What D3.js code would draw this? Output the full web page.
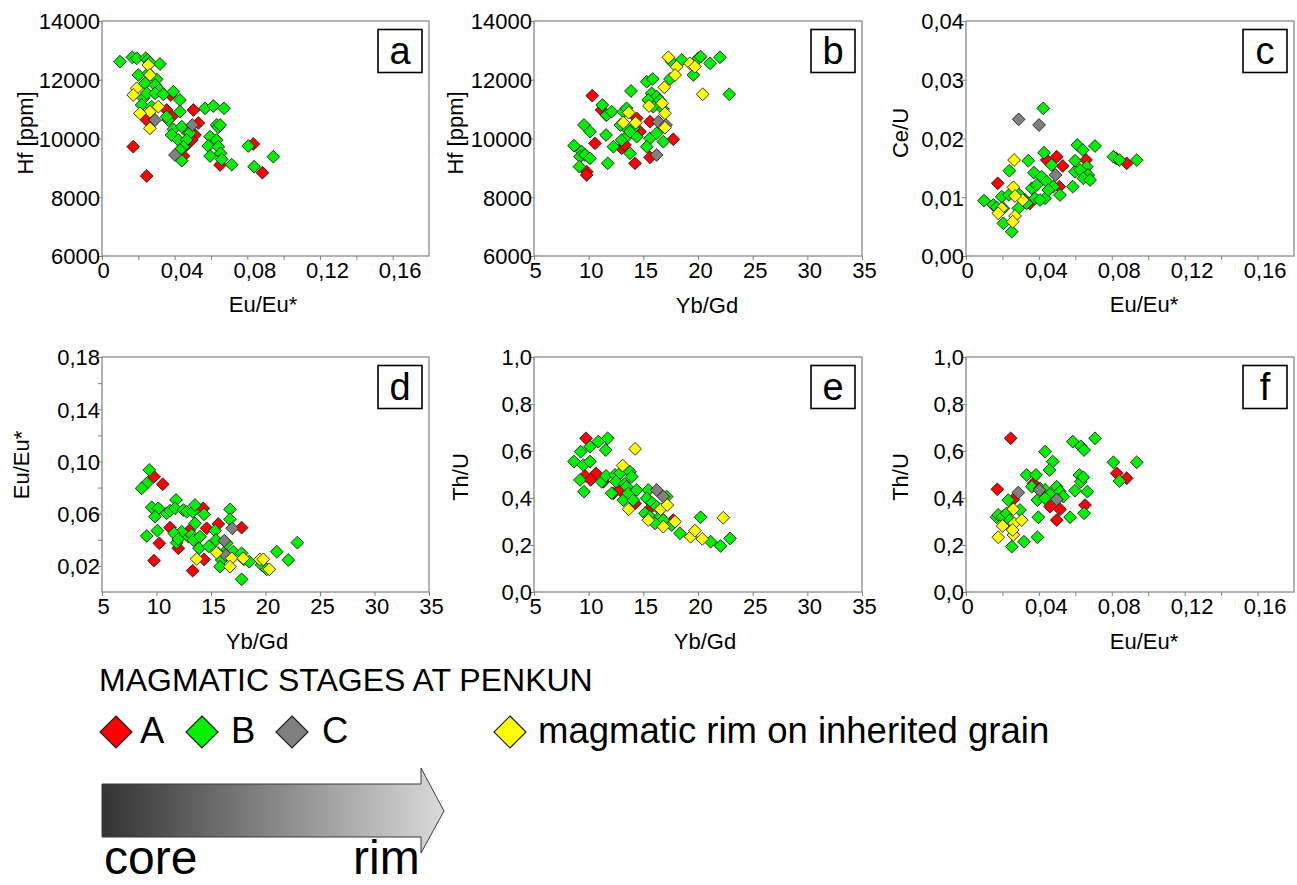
<!DOCTYPE html>
<html>
<head>
<meta charset="utf-8">
<script src="https://cdn.jsdelivr.net/npm/d3@7/dist/d3.min.js"></script>
<style>
  html, body { margin: 0; padding: 0; background: #fff; }
  svg { display: block; }
</style>
</head>
<body>
<svg id="chart" width="1297" height="885"></svg>
<script>
// ---------------- DATA ----------------
// groups
const groupNames = ["A", "B", "C", "magmatic rim on inherited grain"];
const groupColors = ["#ff0000", "#00f000", "#808080", "#ffff00"];

// tick values / labels
const euTicks  = [0, 0.02, 0.04, 0.06, 0.08, 0.10, 0.12, 0.14, 0.16];
const euLabels = ["0", "", "0,04", "", "0,08", "", "0,12", "", "0,16"];
const ybTicks  = [5, 10, 15, 20, 25, 30, 35];
const ybLabels = ["5", "10", "15", "20", "25", "30", "35"];
const hfTicks  = [6000, 8000, 10000, 12000, 14000];
const hfLabels = ["6000", "8000", "10000", "12000", "14000"];
const ceuTicks  = [0, 0.01, 0.02, 0.03, 0.04];
const ceuLabels = ["0,00", "0,01", "0,02", "0,03", "0,04"];
const euYTicks  = [0.02, 0.04, 0.06, 0.08, 0.10, 0.12, 0.14, 0.16, 0.18];
const euYLabels = ["0,02", "", "0,06", "", "0,10", "", "0,14", "", "0,18"];
const thuTicks  = [0, 0.2, 0.4, 0.6, 0.8, 1.0];
const thuLabels = ["0,0", "0,2", "0,4", "0,6", "0,8", "1,0"];

// Panel a: Eu/Eu* vs Hf
const aA = [[0.0378,11481],[0.0356,10970],[0.0384,10743],[0.0503,10970],[0.0530,10528],[0.0512,10119],[0.0494,9949],[0.0457,9721],[0.0448,9404],[0.0172,9721],[0.0246,8724],[0.0650,9098],[0.0833,9813],[0.0883,8836],[0.0246,10630]];
const aB = [[0.0099,12615],[0.0167,12764],[0.0191,12730],[0.0240,12730],[0.0251,12672],[0.0264,12581],[0.0319,12536],[0.0200,12162],[0.0255,12219],[0.0301,12015],[0.0237,11879],[0.0292,11821],[0.0316,11651],[0.0228,11368],[0.0246,11538],[0.0292,11538],[0.0338,11505],[0.0429,11311],[0.0393,11595],[0.0218,11141],[0.0273,11084],[0.0429,10913],[0.0365,10630],[0.0356,10743],[0.0567,11028],[0.0613,11107],[0.0672,11028],[0.0393,10313],[0.0439,10402],[0.0475,10177],[0.0484,10187],[0.0383,10119],[0.0420,9949],[0.0466,9949],[0.0448,9721],[0.0429,9609],[0.0439,9245],[0.0631,10460],[0.0640,10381],[0.0650,10460],[0.0595,10062],[0.0631,9949],[0.0585,9745],[0.0640,9721],[0.0653,9496],[0.0595,9404],[0.0659,9291],[0.0714,9109],[0.0805,9745],[0.0837,9040],[0.0943,9381]];
const aC = [[0.0292,10630],[0.0497,10460],[0.0402,9439]];
const aR = [[0.0255,12502],[0.0264,12162],[0.0191,11709],[0.0172,11481],[0.0310,11084],[0.0264,10913],[0.0209,10857],[0.0264,10347]];

// Panel b: Yb/Gd vs Hf
const bA = [[10.33,11458],[10.58,9837],[11.19,10970],[11.60,10800],[13.02,9667],[13.32,9779],[14.24,9156],[14.39,10687],[14.69,10232],[15.61,10572],[15.61,9360],[17.74,9973],[9.82,8870],[9.82,8758]];
const bB = [[8.66,9756],[9.57,10460],[10.12,10232],[9.36,9551],[9.21,9381],[9.66,9439],[10.12,9326],[9.15,9041],[11.25,11141],[11.65,10800],[12.10,10913],[11.59,10119],[11.74,9156],[12.26,9721],[13.02,9949],[13.17,10913],[13.47,11028],[13.78,9496],[13.87,11617],[13.63,10119],[14.39,10062],[14.08,10347],[13.32,10392],[13.78,10232],[12.90,10460],[15.31,11934],[15.86,12026],[15.76,11539],[16.22,11424],[15.91,11083],[15.45,11311],[16.50,11300],[16.80,11000],[15.61,10007],[15.31,9721],[16.22,10177],[16.83,9892],[17.44,12026],[17.59,12615],[18.51,12672],[19.57,12162],[20.03,12730],[20.24,12785],[21.10,12560],[22.01,12764],[22.86,11505]];
const bC = [[16.37,10572],[16.22,9439],[17.07,10460]];
const bR = [[17.29,12764],[18.05,12444],[17.90,12162],[19.27,12560],[19.72,12444],[20.43,11505],[16.92,11743],[16.73,11198],[15.52,11107],[16.98,10858],[16.98,10368],[13.66,10880],[14.30,10538],[13.17,10538]];

// Panel c: Eu/Eu* vs Ce/U
const cA = [[0.0174,0.01237],[0.0443,0.01634],[0.0498,0.01690],[0.0531,0.01532],[0.0659,0.01634],[0.0512,0.01180],[0.0882,0.01577],[0.0824,0.01663],[0.0351,0.00897]];
const cB = [[0.0099,0.00942],[0.0150,0.00868],[0.0168,0.00828],[0.0196,0.01010],[0.0205,0.00556],[0.0251,0.00414],[0.0238,0.01452],[0.0342,0.01622],[0.0373,0.01418],[0.0428,0.01758],[0.0424,0.02513],[0.0324,0.00953],[0.0361,0.01152],[0.0388,0.01208],[0.0415,0.01350],[0.0443,0.01265],[0.0470,0.01549],[0.0479,0.01180],[0.0434,0.00982],[0.0379,0.00982],[0.0406,0.00953],[0.0452,0.01123],[0.0516,0.01038],[0.0586,0.01180],[0.0598,0.01435],[0.0598,0.01622],[0.0611,0.01889],[0.0641,0.01804],[0.0708,0.01872],[0.0663,0.01520],[0.0626,0.01464],[0.0671,0.01379],[0.0644,0.01322],[0.0681,0.01294],[0.0809,0.01690],[0.0842,0.01634],[0.0937,0.01632],[0.0205,0.00811],[0.0287,0.00811],[0.0315,0.00953],[0.0333,0.00897],[0.0236,0.01040],[0.0290,0.01050]];
const cC = [[0.0289,0.02326],[0.0401,0.02230],[0.0492,0.01379]];
const cR = [[0.0264,0.01634],[0.0260,0.01169],[0.0311,0.00953],[0.0269,0.01021],[0.0196,0.00811],[0.0177,0.00726],[0.0269,0.00681],[0.0256,0.00584]];

// Panel d: Yb/Gd vs Eu/Eu*
const dA = [[9.77,0.0883],[10.57,0.0825],[11.24,0.0493],[10.26,0.0373],[9.77,0.0240],[13.32,0.0163],[14.36,0.0250],[14.29,0.0641],[14.60,0.0488],[15.67,0.0521],[17.81,0.0493],[12.00,0.0335],[13.00,0.0470]];
const dB = [[9.34,0.0935],[9.10,0.0832],[8.64,0.0794],[9.56,0.0649],[10.17,0.0641],[9.86,0.0577],[9.10,0.0429],[10.08,0.0470],[10.93,0.0603],[11.24,0.0623],[11.79,0.0705],[11.70,0.0641],[12.46,0.0628],[12.77,0.0615],[13.32,0.0615],[13.53,0.0666],[14.36,0.0595],[13.53,0.0526],[12.92,0.0424],[12.31,0.0462],[11.85,0.0378],[11.61,0.0450],[13.23,0.0437],[13.38,0.0398],[13.90,0.0335],[13.99,0.0424],[12.00,0.0405],[14.80,0.0350],[16.20,0.0300],[18.00,0.0250],[15.37,0.0470],[15.46,0.0398],[15.67,0.0296],[15.98,0.0245],[16.74,0.0633],[16.74,0.0557],[17.05,0.0309],[17.81,0.0296],[18.51,0.0232],[17.81,0.0097],[19.65,0.0207],[20.11,0.0174],[21.03,0.0309],[22.09,0.0245],[22.92,0.0378],[16.44,0.0373],[15.83,0.0194]];
const dC = [[16.95,0.0488],[16.22,0.0393],[16.35,0.0283]];
const dR = [[13.69,0.0253],[15.52,0.0301],[16.90,0.0258],[16.74,0.0194],[17.96,0.0258],[19.49,0.0250],[19.80,0.0250],[20.35,0.0174]];

// Panel e: Yb/Gd vs Th/U
const eA = [[9.76,0.654],[9.66,0.494],[10.67,0.505],[10.18,0.477],[11.34,0.469],[12.26,0.420],[12.87,0.434],[14.24,0.377],[15.76,0.363],[17.74,0.306]];
const eB = [[8.66,0.555],[9.27,0.597],[9.21,0.477],[9.57,0.427],[9.51,0.540],[10.12,0.555],[10.12,0.618],[10.88,0.640],[11.74,0.654],[11.56,0.604],[11.19,0.469],[11.59,0.494],[12.10,0.420],[12.41,0.498],[12.87,0.505],[12.50,0.470],[13.30,0.460],[13.17,0.391],[13.47,0.448],[13.78,0.512],[13.94,0.491],[13.63,0.420],[14.08,0.391],[14.39,0.434],[15.45,0.434],[15.31,0.399],[15.80,0.380],[15.15,0.335],[15.61,0.320],[16.22,0.363],[16.52,0.320],[16.83,0.306],[17.14,0.406],[16.07,0.292],[17.59,0.285],[18.35,0.250],[20.24,0.318],[21.16,0.214],[22.07,0.196],[22.93,0.228]];
const eC = [[16.22,0.434],[16.83,0.406]];
const eR = [[13.11,0.538],[14.24,0.609],[13.66,0.352],[15.45,0.306],[16.59,0.352],[17.19,0.370],[16.83,0.278],[17.90,0.299],[19.33,0.235],[19.72,0.261],[20.39,0.226],[22.31,0.316]];

// Panel f: Eu/Eu* vs Th/U
const fA = [[0.0245,0.654],[0.0172,0.437],[0.0260,0.394],[0.0498,0.306],[0.0653,0.370],[0.0827,0.505],[0.0882,0.484],[0.0461,0.363],[0.0516,0.352],[0.0370,0.462]];
const fB = [[0.0168,0.318],[0.0177,0.328],[0.0201,0.320],[0.0223,0.335],[0.0242,0.306],[0.0251,0.193],[0.0318,0.214],[0.0392,0.233],[0.0397,0.318],[0.0434,0.597],[0.0476,0.555],[0.0458,0.519],[0.0333,0.498],[0.0384,0.498],[0.0361,0.448],[0.0406,0.441],[0.0434,0.434],[0.0461,0.417],[0.0498,0.448],[0.0516,0.427],[0.0534,0.406],[0.0571,0.318],[0.0586,0.640],[0.0630,0.620],[0.0648,0.604],[0.0708,0.654],[0.0622,0.498],[0.0630,0.469],[0.0644,0.488],[0.0598,0.431],[0.0666,0.427],[0.0648,0.335],[0.0809,0.552],[0.0937,0.552],[0.0842,0.472],[0.0392,0.391],[0.0434,0.399],[0.0232,0.391],[0.0296,0.349]];
const fC = [[0.0287,0.423],[0.0403,0.434],[0.0498,0.394]];
const fR = [[0.0260,0.352],[0.0201,0.281],[0.0265,0.292],[0.0306,0.306],[0.0177,0.233],[0.0260,0.243],[0.0256,0.264]];

// ---------------- DRAWING ----------------
const FONT = "'Liberation Sans', Arial, Helvetica, sans-serif";
const svg = d3.select("#chart");
svg.append("rect").attr("width", 1297).attr("height", 885).attr("fill", "#fff");

const panels = [
  {letter:"a", box:[102,429,21,256], xd:[0,0.18], yd:[6000,14000], xt:euTicks, xl:euLabels, yt:hfTicks, yl:hfLabels,
   groups:[aA,aB,aC,aR], xTitle:"Eu/Eu*", xTitlePos:[263,312], yTitle:"Hf [ppm]", yTitlePos:[33,133], xShift:7},
  {letter:"b", box:[534,862,21,256], xd:[5,35], yd:[6000,14000], xt:ybTicks, xl:ybLabels, yt:hfTicks, yl:hfLabels,
   groups:[bA,bB,bC,bR], xTitle:"Yb/Gd", xTitlePos:[707,313], yTitle:"Hf [ppm]", yTitlePos:[463,133], xShift:2},
  {letter:"c", box:[966,1294,21,256], xd:[0,0.18], yd:[0,0.04], xt:euTicks, xl:euLabels, yt:ceuTicks, yl:ceuLabels,
   groups:[cA,cB,cC,cR], xTitle:"Eu/Eu*", xTitlePos:[1144,312], yTitle:"Ce/U", yTitlePos:[908,133], xShift:7},
  {letter:"d", box:[102,429,357,592], xd:[5,35], yd:[0,0.18], xt:ybTicks, xl:ybLabels, yt:euYTicks, yl:euYLabels,
   groups:[dA,dB,dC,dR], xTitle:"Yb/Gd", xTitlePos:[257,649], yTitle:"Eu/Eu*", yTitlePos:[29,465], xShift:2},
  {letter:"e", box:[534,862,357,592], xd:[5,35], yd:[0,1], xt:ybTicks, xl:ybLabels, yt:thuTicks, yl:thuLabels,
   groups:[eA,eB,eC,eR], xTitle:"Yb/Gd", xTitlePos:[705,649], yTitle:"Th/U", yTitlePos:[468,477], xShift:2},
  {letter:"f", box:[966,1294,357,592], xd:[0,0.18], yd:[0,1], xt:euTicks, xl:euLabels, yt:thuTicks, yl:thuLabels,
   groups:[fA,fB,fC,fR], xTitle:"Eu/Eu*", xTitlePos:[1144,649], yTitle:"Th/U", yTitlePos:[908,477], xShift:7}
];

const H = 6.4; // diamond half-diagonal
const diamond = h => `M0,${-h}L${h},0L0,${h}L${-h},0Z`;
const drawOrder = [0, 1, 2, 3];

panels.forEach(p => {
  const [x0, x1, y0, y1] = p.box;
  const x = d3.scaleLinear().domain(p.xd).range([x0, x1]);
  const y = d3.scaleLinear().domain(p.yd).range([y1, y0]);
  const g = svg.append("g");

  // frame
  g.append("rect").attr("x", x0).attr("y", y0).attr("width", x1 - x0).attr("height", y1 - y0)
    .attr("fill", "none").attr("stroke", "#808080").attr("stroke-width", 1.2);

  // x axis
  const xa = g.append("g").attr("transform", `translate(0,${y1})`)
    .call(d3.axisBottom(x).tickValues(p.xt).tickSize(4).tickFormat((d, i) => p.xl[i]));
  xa.select(".domain").remove();
  xa.selectAll(".tick line").attr("stroke", "#808080");
  xa.selectAll(".tick text").attr("y", 22).attr("dy", 0)
    .attr("dx", (d, i) => (p.xl[i].includes(",") ? p.xShift : (d === p.xd[0] ? 1 : p.xShift)))
    .attr("font-family", FONT).attr("font-size", 22).attr("fill", "#000");

  // y axis
  const ya = g.append("g").attr("transform", `translate(${x0},0)`)
    .call(d3.axisLeft(y).tickValues(p.yt).tickSize(4).tickFormat((d, i) => p.yl[i]));
  ya.select(".domain").remove();
  ya.selectAll(".tick line").attr("stroke", "#808080");
  ya.selectAll(".tick text").attr("x", -2).attr("dy", "0.36em")
    .attr("font-family", FONT).attr("font-size", 22).attr("fill", "#000");

  // axis titles
  g.append("text").attr("x", p.xTitlePos[0]).attr("y", p.xTitlePos[1])
    .attr("text-anchor", "middle").attr("font-family", FONT).attr("font-size", 22).text(p.xTitle);
  g.append("text").attr("transform", `translate(${p.yTitlePos[0]},${p.yTitlePos[1]}) rotate(-90)`)
    .attr("text-anchor", "middle").attr("font-family", FONT).attr("font-size", 22).text(p.yTitle);

  // points
  drawOrder.forEach(gi => {
    g.append("g").selectAll("path").data(p.groups[gi]).join("path")
      .attr("d", diamond(H))
      .attr("transform", d => `translate(${x(d[0])},${y(d[1])})`)
      .attr("fill", groupColors[gi]).attr("stroke", "#1e1e1e").attr("stroke-width", 0.9);
  });

  // panel letter box
  const bx = x1 - 51, by = y0 + 8.5;
  g.append("rect").attr("x", bx).attr("y", by).attr("width", 44).attr("height", 43)
    .attr("fill", "#fff").attr("stroke", "#000").attr("stroke-width", 1.6);
  g.append("text").attr("x", bx + 22).attr("y", by + 34.5).attr("text-anchor", "middle")
    .attr("font-family", FONT).attr("font-size", 38).text(p.letter);
});

// ---------------- LEGEND ----------------
svg.append("text").attr("x", 99).attr("y", 691).attr("font-family", FONT).attr("font-size", 32)
  .text("MAGMATIC STAGES AT PENKUN");

const legendItems = [
  {gi: 0, cx: 116, tx: 140},
  {gi: 1, cx: 202, tx: 231},
  {gi: 2, cx: 292, tx: 322},
  {gi: 3, cx: 510, tx: 538}
];
legendItems.forEach(it => {
  svg.append("path").attr("d", diamond(16)).attr("transform", `translate(${it.cx},732)`)
    .attr("fill", groupColors[it.gi]).attr("stroke", "#1e1e1e").attr("stroke-width", 1.2);
  svg.append("text").attr("x", it.tx).attr("y", 743).attr("font-family", FONT).attr("font-size", 36.5)
    .text(groupNames[it.gi]);
});

// core -> rim arrow
const defs = svg.append("defs");
const grad = defs.append("linearGradient").attr("id", "arrowGrad")
  .attr("x1", "0%").attr("x2", "100%").attr("y1", "0%").attr("y2", "0%");
grad.append("stop").attr("offset", "0%").attr("stop-color", "#333333");
grad.append("stop").attr("offset", "100%").attr("stop-color", "#dadada");
svg.append("path")
  .attr("d", "M102,784 L421,784 L421,768 L444,811 L421,853 L421,837 L102,837 Z")
  .attr("fill", "url(#arrowGrad)").attr("stroke", "#3a3a3a").attr("stroke-width", 1);
svg.append("text").attr("x", 104).attr("y", 874).attr("font-family", FONT).attr("font-size", 48).text("core");
svg.append("text").attr("x", 353).attr("y", 874).attr("font-family", FONT).attr("font-size", 48).text("rim");
</script>
</body>
</html>
